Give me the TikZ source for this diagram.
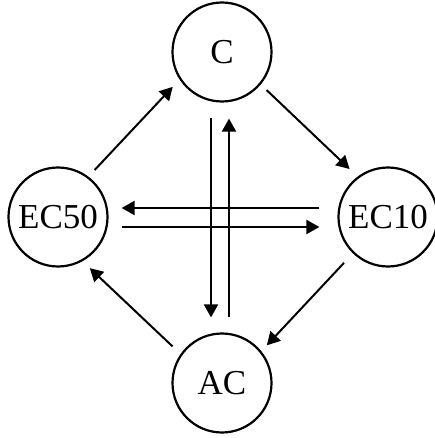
\documentclass[tikz,border=0pt]{standalone}
\usepackage{fontspec}
\setmainfont{Liberation Serif}
\usetikzlibrary{arrows.meta}
\tikzset{
  every picture/.style={line width=2.2pt},
  state/.style={draw, circle, minimum size=99pt, inner sep=0pt, font=\fontsize{35}{42}\selectfont},
  arrow/.style={-{Triangle[length=13pt, width=14pt]}, line width=2pt},
}

\begin{document}
\begin{tikzpicture}[x=1pt, y=-1pt]
  \useasboundingbox (0,0) rectangle (435,438);
  \node[state] (C) at (222,52) {C};
  \node[state] (EC50) at (58,217) {EC50};
  \node[state] (EC10) at (388,217) {EC10};
  \node[state] (AC) at (222,383) {AC};
  % outer cycle
  \draw[arrow, shorten <=9pt, shorten >=10pt] (EC50.53) -- (C.213);
  \draw[arrow, shorten <=8pt, shorten >=11pt] (C.-40) -- (EC10.127);
  \draw[arrow, shorten <=13pt, shorten >=8pt] (EC10.226) -- (AC.39);
  \draw[arrow, shorten <=11pt, shorten >=10pt] (AC.145) -- (EC50.-61);
  % the cross in the middle
  \draw[arrow, shorten <=18pt, shorten >=13pt] ([yshift=9pt]EC10.west) -- ([yshift=9pt]EC50.east);
  \draw[arrow, shorten <=13pt, shorten >=18pt] ([yshift=-10pt]EC50.east) -- ([yshift=-10pt]EC10.west);
  \draw[arrow, shorten <=15pt, shorten >=15pt] ([xshift=-11pt]C.south) -- ([xshift=-11pt]AC.north);
  \draw[arrow, shorten <=15pt, shorten >=16pt] ([xshift=7pt]AC.north) -- ([xshift=7pt]C.south);
\end{tikzpicture}
\end{document}
